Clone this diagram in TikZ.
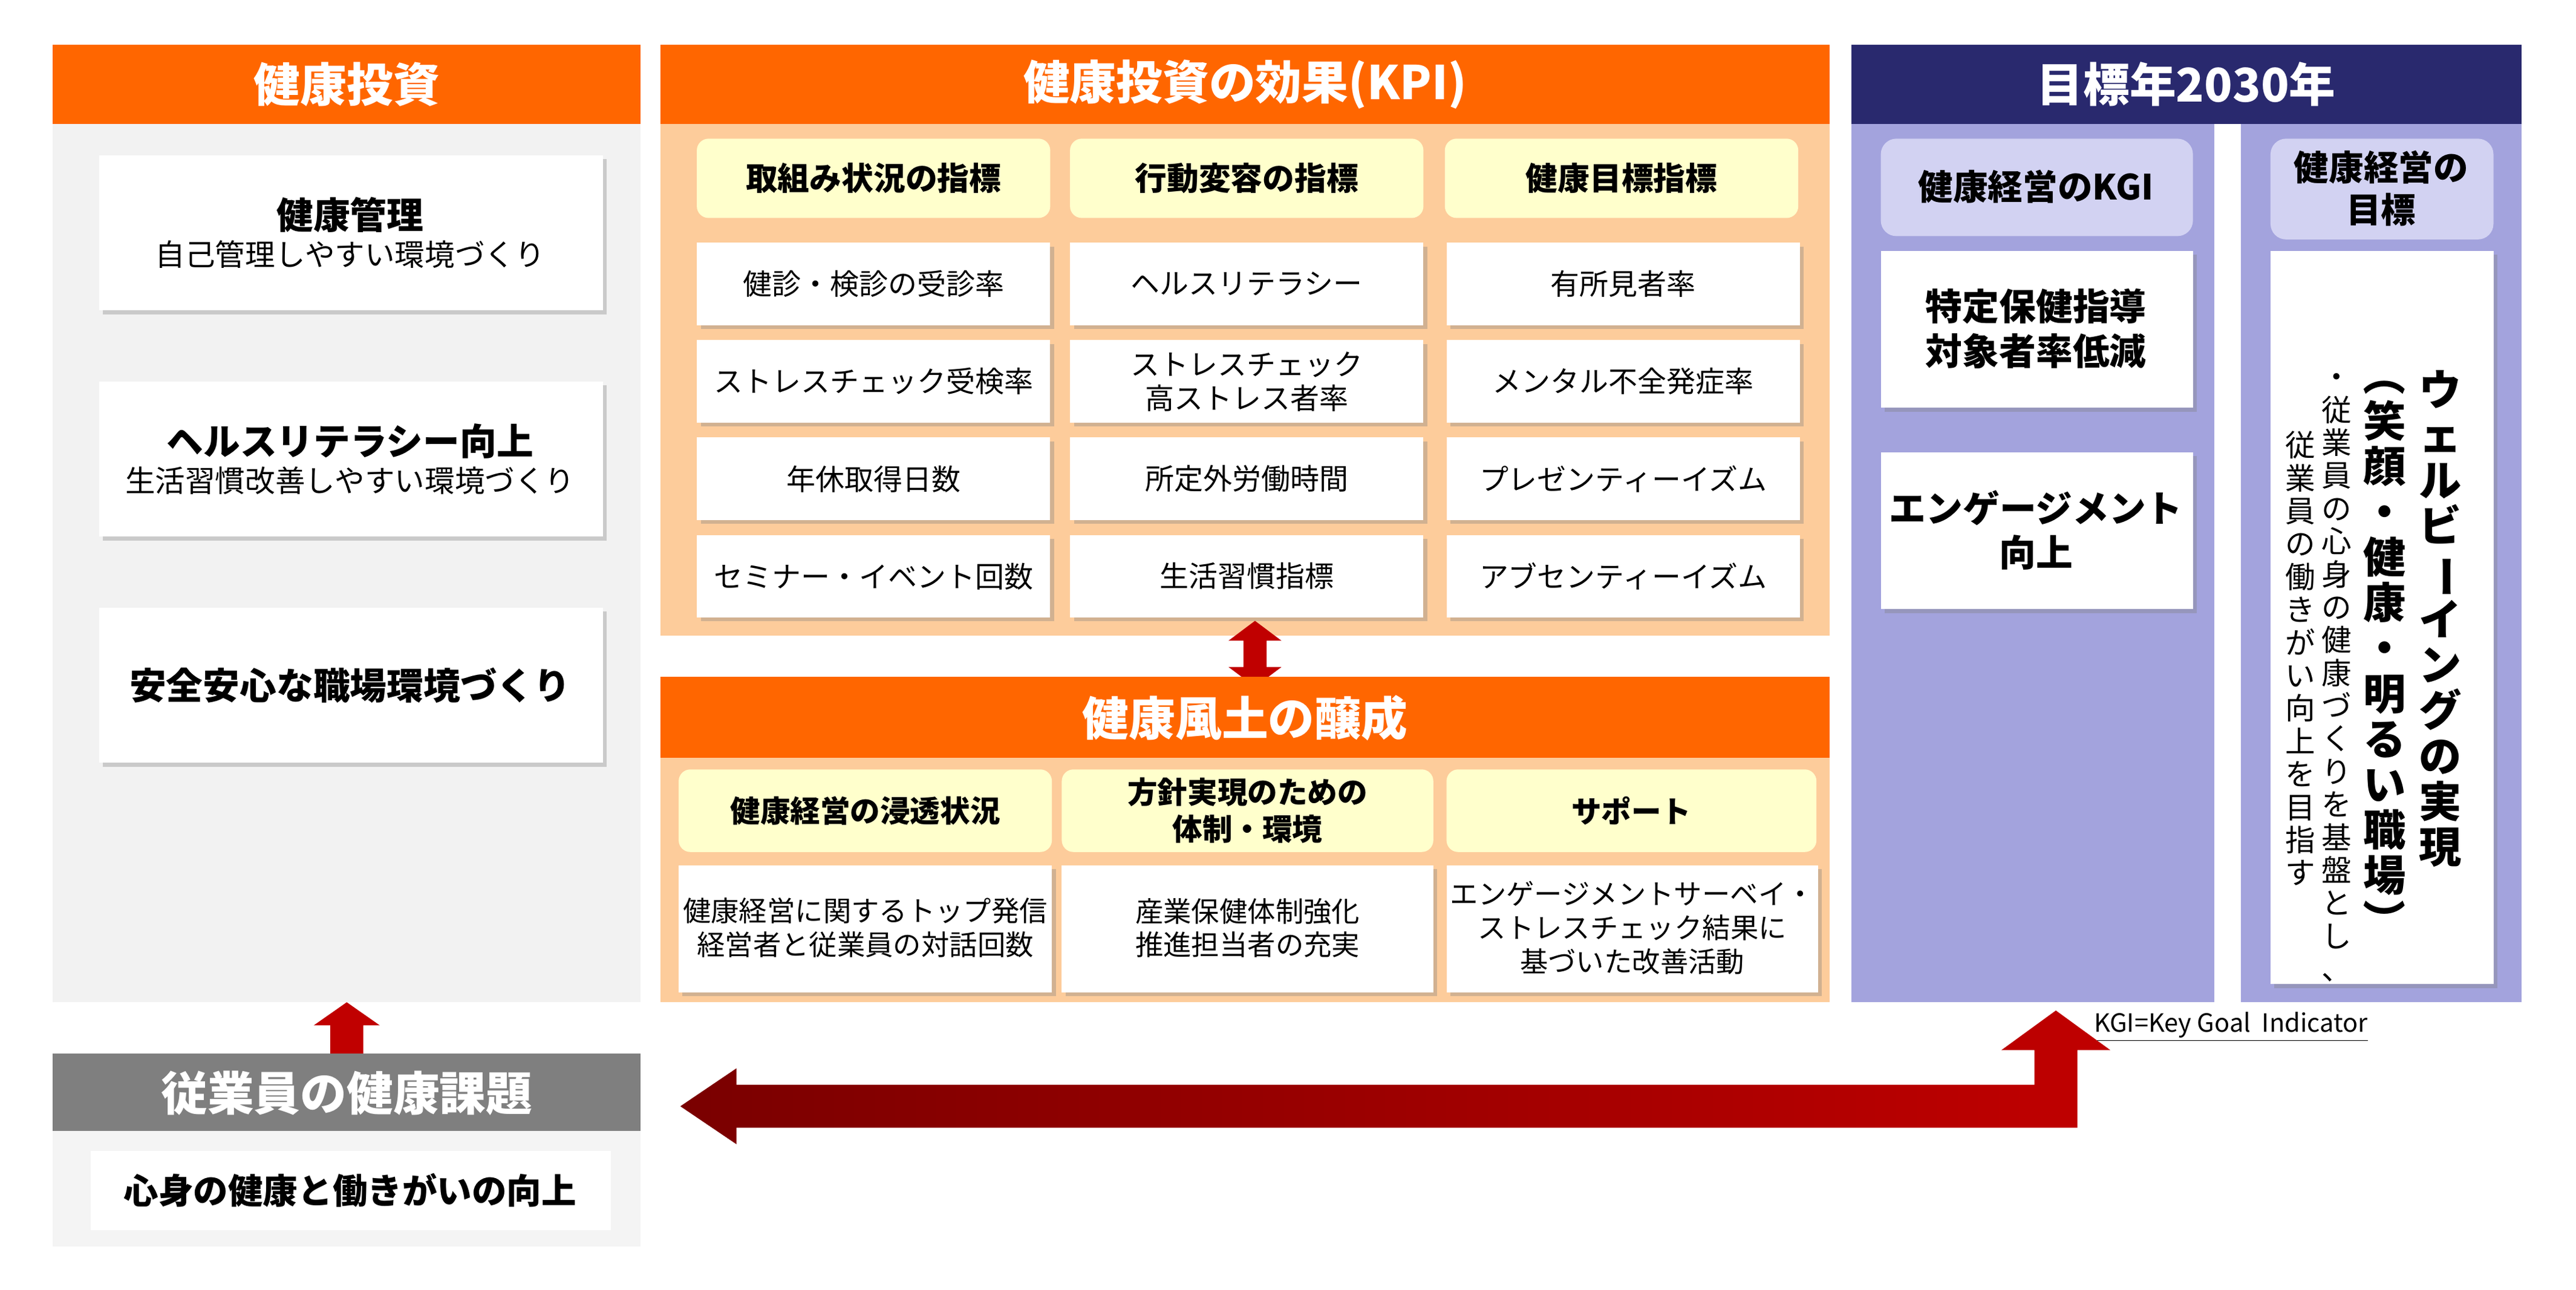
\documentclass[tikz,border=0pt]{standalone}
\usepackage{fontspec}
\setmainfont{Noto Sans CJK JP}
\usetikzlibrary{shadows}
\definecolor{kporange}{HTML}{FF6600}
\definecolor{kplight}{HTML}{FDCC9B}
\definecolor{kpyellow}{HTML}{FFFFCC}
\definecolor{kpgray}{HTML}{F2F2F2}
\definecolor{kpnavy}{HTML}{29296E}
\definecolor{kplav}{HTML}{A3A3DD}
\definecolor{kplavlt}{HTML}{D2D2F2}
\definecolor{kpdark}{HTML}{7F7F7F}
\definecolor{kpred}{HTML}{C00000}
\definecolor{kpdeep}{HTML}{7A0000}
% vertical text helpers
\newcommand\vbar{\rotatebox[origin=c]{-90}{ー}}
\newcommand\vlp{\rotatebox[origin=c]{-90}{（}}
\newcommand\vrp{\rotatebox[origin=c]{-90}{）}}
\newcommand\vcol[1]{\vcolA#1\relax}
\def\vcolA#1{\ifx\relax#1\else#1\\\expandafter\vcolA\fi}
\begin{document}
\begin{tikzpicture}[x=0.03cm,y=-0.03cm,
    panel/.style={anchor=north west,inner sep=0pt,outer sep=0pt},
    headtxt/.style={text=white,font=\bfseries\fontsize{24}{28}\selectfont},
    whitebox/.style={panel,fill=white,drop shadow={shadow xshift=2pt,shadow yshift=-2pt,opacity=0.35}},
    boxtxt/.style={align=center,font=\fontsize{15.5}{19}\selectfont},
    boldtxt/.style={align=center,font=\bfseries\fontsize{16.5}{20}\selectfont},
    capbox/.style={panel,rounded corners=6pt},
]
\useasboundingbox (0,0) rectangle (1560,781);

% Colonna sinistra: investimento
\fill[kporange] (32,27) rectangle (388,75);
\fill[kpgray] (32,75) rectangle (388,607);
\node[headtxt] (inv) at (210,51) {健康投資};
\foreach \yy/\txt in {94/{{\bfseries\fontsize{19}{23}\selectfont 健康管理}\\自己管理しやすい環境づくり},
                      231/{{\bfseries\fontsize{19}{23}\selectfont ヘルスリテラシー向上}\\生活習慣改善しやすい環境づくり},
                      368/{{\bfseries\fontsize{19}{23}\selectfont 安全安心な職場環境づくり}}}{
  \node[whitebox,minimum width=305*0.03cm,minimum height=94*0.03cm] at (60,\yy) {};
  \node[boxtxt] at (212,\yy+47) {\txt};
}

% Colonna centrale: KPI
\fill[kporange] (400,27) rectangle (1108,75);
\fill[kplight] (400,75) rectangle (1108,385);
\node[headtxt] (kpi) at (754,51) {健康投資の効果(KPI)};
\foreach \xx/\txt in {422/取組み状況の指標,648/行動変容の指標,875/健康目標指標}{
  \fill[kpyellow,rounded corners=6pt] (\xx,84) rectangle (\xx+214,132);
  \node[boldtxt] at (\xx+107,108) {\txt};
}
\foreach \xx/\yy/\txt in {
    422/147/健診・検診の受診率, 648/147/ヘルスリテラシー, 876/147/有所見者率,
    422/206/ストレスチェック受検率, 648/206/{ストレスチェック\\高ストレス者率}, 876/206/メンタル不全発症率,
    422/265/年休取得日数, 648/265/所定外労働時間, 876/265/プレゼンティーイズム,
    422/324/セミナー・イベント回数, 648/324/生活習慣指標, 876/324/アブセンティーイズム}{
  \node[whitebox,minimum width=214*0.03cm,minimum height=50*0.03cm] at (\xx,\yy) {};
  \node[boxtxt,font=\fontsize{15}{17.5}\selectfont] at (\xx+107,\yy+25) {\txt};
}

% Freccia doppia
\fill[kpred] (760,376) -- (776,388) -- (767,388) -- (767,404) -- (776,404)
  -- (760,416) -- (744,404) -- (753,404) -- (753,388) -- (744,388) -- cycle;

% Clima aziendale
\fill[kporange] (400,410) rectangle (1108,459);
\fill[kplight] (400,459) rectangle (1108,607);
\node[headtxt] (culture) at (754,435) {健康風土の醸成};
\foreach \xx/\ww/\txt in {411/226/健康経営の浸透状況,643/225/{方針実現のための\\体制・環境},876/224/サポート}{
  \fill[kpyellow,rounded corners=6pt] (\xx,466) rectangle (\xx+\ww,516);
  \node[boldtxt,font=\bfseries\fontsize{15.5}{19}\selectfont] at (\xx+\ww/2,491) {\txt};
}
\foreach \xx/\ww/\txt in {411/226/{健康経営に関するトップ発信\\経営者と従業員の対話回数},
    643/225/{産業保健体制強化\\推進担当者の充実},
    876/225/{エンゲージメントサーベイ・\\ストレスチェック結果に\\基づいた改善活動}}{
  \node[whitebox,minimum width=\ww*0.03cm,minimum height=77*0.03cm] at (\xx,524) {};
  \node[boxtxt,font=\fontsize{14.5}{17.5}\selectfont] at (\xx+\ww/2,562) {\txt};
}

% Colonna destra: obiettivo 2030
\fill[kpnavy] (1121,27) rectangle (1527,75);
\fill[kplav] (1121,75) rectangle (1341,607);
\fill[kplav] (1357,75) rectangle (1527,607);
\node[headtxt] (goal) at (1324,51) {目標年2030年};
\fill[kplavlt,rounded corners=8pt] (1139,84) rectangle (1328,143);
\node[boldtxt,font=\bfseries\fontsize{18}{22}\selectfont] (kgi) at (1233,113) {健康経営のKGI};
\fill[kplavlt,rounded corners=8pt] (1375,84) rectangle (1510,145);
\node[boldtxt,font=\bfseries\fontsize{18}{22}\selectfont] (aim) at (1442,114) {健康経営の\\目標};
\node[whitebox,minimum width=189*0.03cm,minimum height=95*0.03cm] at (1139,152) {};
\node[boldtxt,font=\bfseries\fontsize{19}{23}\selectfont] at (1233,199) {特定保健指導\\対象者率低減};
\node[whitebox,minimum width=189*0.03cm,minimum height=95*0.03cm] at (1139,274) {};
\node[boldtxt,font=\bfseries\fontsize{19}{23}\selectfont] at (1233,321) {エンゲージメント\\向上};
\node[whitebox,minimum width=135*0.03cm,minimum height=444*0.03cm] at (1375,152) {};
\node[anchor=north,inner sep=0pt,align=center,font=\bfseries\fontsize{22}{23.5}\selectfont]
  at (1478,224) {\vcol{ウェルビ\vbar イングの実現}};
\node[anchor=north,inner sep=0pt,align=center,font=\bfseries\fontsize{22}{23.5}\selectfont]
  at (1444,214) {\vcol{\vlp 笑顔・健康・明るい職場\vrp}};
\node[anchor=north,inner sep=0pt,align=center,font=\fontsize{15.5}{17}\selectfont]
  at (1415,226) {\vcol{・従業員の心身の健康づくりを基盤とし、}};
\node[anchor=north,inner sep=0pt,align=center,font=\fontsize{15.5}{17}\selectfont]
  at (1393,261) {\vcol{従業員の働きがい向上を目指す}};
\node[anchor=west,font=\fontsize{13}{15}\selectfont] (note) at (1264,622)
  {\underline{KGI=Key Goal\ \ Indicator}};

% Problema dei dipendenti
\fill[kpdark] (32,638) rectangle (388,685);
\fill[kpgray!80!kpdark!30] (32,685) rectangle (388,755);
\node[headtxt] (issue) at (210,662) {従業員の健康課題};
\fill[white] (55,697) rectangle (370,745);
\node[boldtxt,font=\bfseries\fontsize{18}{22}\selectfont] (wellness) at (212,721) {心身の健康と働きがいの向上};

% Frecce
\fill[kpred] (210,607) -- (230,621) -- (220,621) -- (220,638) -- (200,638) -- (200,621) -- (190,621) -- cycle;
\shade[left color=kpdeep,right color=kpred]
  (412,670) -- (446,647) -- (446,657) -- (1232,657) -- (1232,636) -- (1212,636)
  -- (1245,612) -- (1278,636) -- (1258,636) -- (1258,683) -- (446,683) -- (446,693) -- cycle;
\end{tikzpicture}
\end{document}
